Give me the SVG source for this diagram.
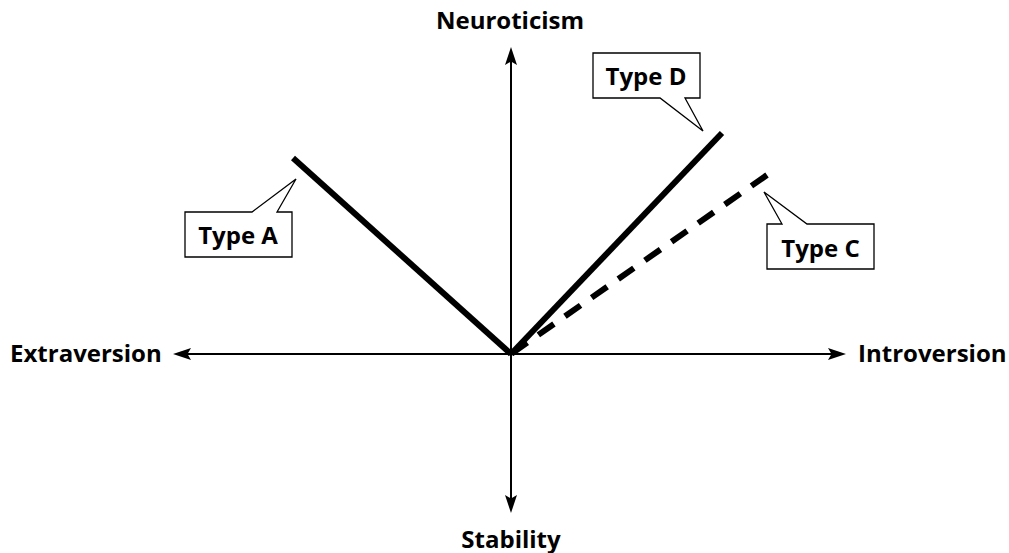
<svg xmlns="http://www.w3.org/2000/svg" width="1009" height="553" viewBox="0 0 1009 553">
  <style>
    .lbl { font-family: "Open Sans", "Noto Sans", "DejaVu Sans", sans-serif; font-weight: bold; font-size: 24px; fill: #000; }
    .axis { stroke: #000; stroke-width: 2; fill: none; }
    .head { fill: #000; stroke: none; }
    .type { stroke: #000; stroke-width: 6; fill: none; stroke-linecap: butt; }
    .callout { fill: #fff; stroke: #000; stroke-width: 1.3; stroke-linejoin: miter; }
  </style>
  <rect width="1009" height="553" fill="#fff"/>
  <g id="connectors">
    <line class="axis" x1="511" y1="60" x2="511" y2="500"/>
    <line class="axis" x1="186" y1="354" x2="833" y2="354"/>
    <path class="head" d="M511,47 L517,65 L511,61.5 L505,65 Z"/>
    <path class="head" d="M511,513 L517,495 L511,498.5 L505,495 Z"/>
    <path class="head" d="M173,354 L191,348 L187.5,354 L191,360 Z"/>
    <path class="head" d="M846,354 L828,348 L831.5,354 L828,360 Z"/>
    <line class="type" x1="511" y1="354" x2="293" y2="158"/>
    <line class="type" x1="511" y1="354" x2="722" y2="133"/>
    <line class="type" x1="767" y1="175" x2="511" y2="354" stroke-dasharray="19 13.5"/>
  </g>
  <g id="neuroticism"><text class="lbl" x="510" y="29" text-anchor="middle">Neuroticism</text></g>
  <g id="stability"><text class="lbl" x="511" y="548" text-anchor="middle">Stability</text></g>
  <g id="extraversion"><text class="lbl" x="10" y="362">Extraversion</text></g>
  <g id="introversion"><text class="lbl" x="858" y="362">Introversion</text></g>
  <g id="typeA">
    <path class="callout" d="M185,212 H252 L296,179 L277,212 H292 V257 H185 Z"/>
    <text class="lbl" x="238" y="244" text-anchor="middle">Type A</text>
  </g>
  <g id="typeD">
    <path class="callout" d="M593,53 H700 V98 H685 L703,131 L660,98 H593 Z"/>
    <text class="lbl" x="646" y="85" text-anchor="middle">Type D</text>
  </g>
  <g id="typeC">
    <path class="callout" d="M767,224 H782 L764,192 L807,224 H874 V269 H767 Z"/>
    <text class="lbl" x="820.5" y="257" text-anchor="middle">Type C</text>
  </g>
</svg>
